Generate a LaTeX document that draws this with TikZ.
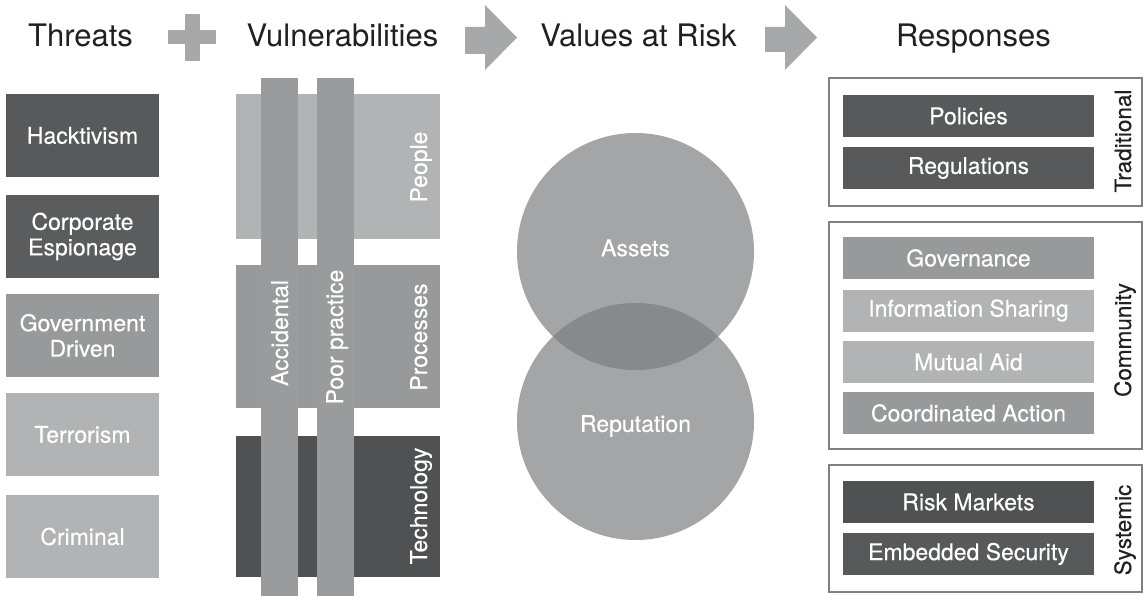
\documentclass[tikz,border=0pt]{standalone}
\usepackage{fontspec}
\setmainfont{TeX Gyre Heros}
\newfontfamily\medfont{TeX Gyre Heros}[FakeBold=0.35]
\definecolor{cdark}{HTML}{58595B}
\definecolor{ctech}{HTML}{505153}
\definecolor{cmid}{HTML}{98999B}
\definecolor{clight}{HTML}{B2B3B5}
\definecolor{cbar}{HTML}{9A9B9D}
\definecolor{ccirc}{HTML}{A4A5A7}
\definecolor{covl}{HTML}{88898B}
\definecolor{cframe}{HTML}{808080}
\definecolor{csym}{HTML}{A7A8AA}
\definecolor{ctext}{HTML}{231F20}
\tikzset{
  boxtext/.style={font=\medfont\fontsize{23}{25.5}\selectfont, text=white, align=center, inner sep=0pt},
  tbox/.style={boxtext, fill=#1, minimum width=153pt, minimum height=83pt},
  vbox/.style={fill=#1, minimum width=204pt, inner sep=0pt},
  rbox/.style={boxtext, fill=#1, minimum width=251pt, minimum height=42pt},
  bar/.style={fill=cbar, minimum width=37pt, minimum height=518pt, inner sep=0pt},
  vlabel/.style={boxtext, rotate=90, anchor=base},
  side/.style={font=\medfont\fontsize{22.5}{25}\selectfont, text=ctext, rotate=90, anchor=base, inner sep=0pt},
  frame/.style={draw=cframe, line width=1.3pt, fill=none, inner sep=0pt},
  head/.style={font=\fontsize{31}{34}\selectfont, text=ctext, anchor=base, inner sep=0pt},
  sym/.style={fill=csym, draw=none},
}
\begin{document}
\begin{tikzpicture}[x=1pt, y=-1pt]
\useasboundingbox (0,0) rectangle (1143,596);

% headers
\node[head] (hthreats) at (80.5,47) {Threats};
\node[head] (hvuln) at (342.5,47) {Vulnerabilities};
\node[head] (hvalues) at (638.5,47) {Values at Risk};
\node[head] (hresp) at (973.5,47) {Responses};

% plus and arrows
\fill[sym] (168,30) rectangle (216,44);
\fill[sym] (185,14) rectangle (200,61);
\fill[sym] (465,27) -- (485,27) -- (485,5) -- (517,37.5) -- (485,70) -- (485,54) -- (465,54) -- cycle;
\fill[sym] (765,27) -- (785,27) -- (785,5) -- (817,37.5) -- (785,70) -- (785,52) -- (765,52) -- cycle;

% threats
\node[tbox=cdark] (hack) at (82.5,135.5) {Hacktivism};
\node[tbox=cdark!95!cmid] (corp) at (82.5,236.5) {Corporate\\Espionage};
\node[tbox=cmid] (gov) at (82.5,335.5) {Government\\Driven};
\node[tbox=clight] (terr) at (82.5,434.5) {Terrorism};
\node[tbox=clight] (crim) at (82.5,536.5) {Criminal};

% vulnerabilities
\node[vbox=clight, minimum height=145pt] (people) at (338,166.5) {};
\node[vbox=cmid, minimum height=143pt] (proc) at (338,336.5) {};
\node[vbox=ctech, minimum height=141pt] (tech) at (338,506.5) {};
\node[bar] (accbar) at (279.5,337) {};
\node[bar] (poorbar) at (335.5,337) {};
\node[vlabel] (lpeople) at (427,167) {People};
\node[vlabel] (lproc) at (427,337) {Processes};
\node[vlabel] (ltech) at (427,506) {Technology};
\node[vlabel] (lacc) at (288,333) {Accidental};
\node[vlabel] (lpoor) at (343,337) {Poor practice};

% values at risk
\fill[ccirc] (635.5,251.5) circle (118.5pt);
\fill[ccirc] (635.5,421.5) circle (118.5pt);
\begin{scope}
  \clip (635.5,251.5) circle (118.5pt);
  \fill[covl] (635.5,421.5) circle (118.5pt);
\end{scope}
\node[boxtext] (assets) at (635.5,248) {Assets};
\node[boxtext] (rep) at (635.5,426) {Reputation};

% responses
\draw[frame] (829,78) rectangle (1142,206);
\draw[frame] (829,222) rectangle (1142,449);
\draw[frame] (829,465) rectangle (1142,592);
\node[rbox=cdark] (pol) at (968.5,116) {Policies};
\node[rbox=cdark] (reg) at (968.5,168) {Regulations};
\node[rbox=cmid] (govn) at (968.5,258) {Governance};
\node[rbox=clight] (info) at (968.5,310.5) {Information Sharing};
\node[rbox=clight] (mut) at (968.5,362) {Mutual Aid};
\node[rbox=cmid] (coord) at (968.5,413) {Coordinated Action};
\node[rbox=ctech] (riskm) at (968.5,502) {Risk Markets};
\node[rbox=cdark] (emb) at (968.5,554) {Embedded Security};
\node[side] (trad) at (1131,141) {Traditional};
\node[side] (comm) at (1131,340) {Community};
\node[side] (sys) at (1131,530) {Systemic};
\end{tikzpicture}
\end{document}
